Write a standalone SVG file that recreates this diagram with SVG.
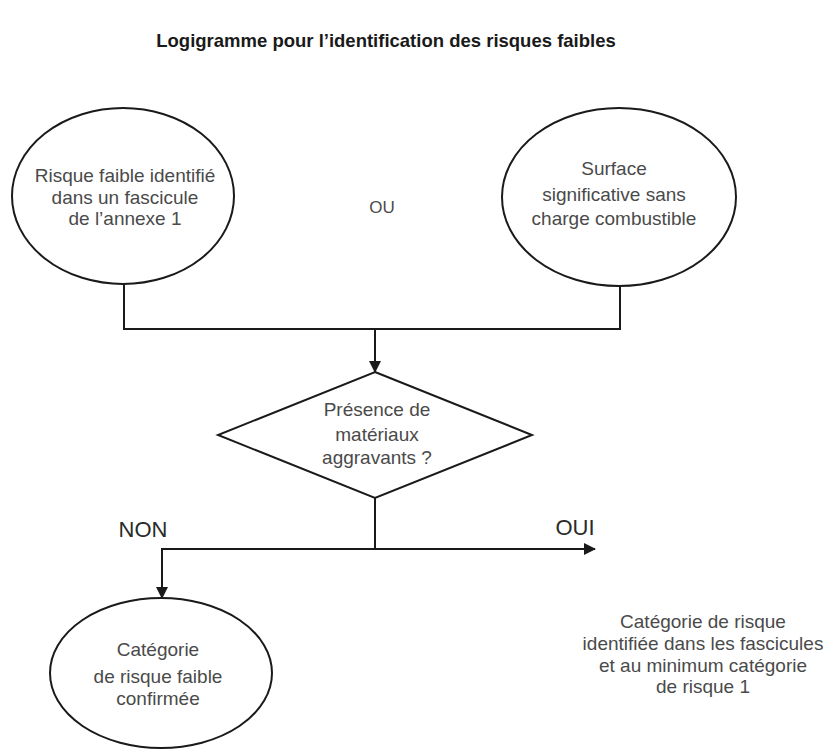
<svg xmlns="http://www.w3.org/2000/svg" width="831" height="749" viewBox="0 0 831 749">
<defs>
<marker id="arr" markerWidth="12" markerHeight="12" refX="11" refY="6" orient="auto" markerUnits="userSpaceOnUse">
<path d="M0,0 L12,6 L0,12 Z" fill="#1a1a1a"/>
</marker>
<style>
.shape{fill:#fff;stroke:#1a1a1a;stroke-width:2}
.line{fill:none;stroke:#1a1a1a;stroke-width:2}
.t{font-family:"Liberation Sans",Arial,sans-serif;font-size:19px;fill:#4a4a4a;text-anchor:middle}
.lbl{font-family:"Liberation Sans",Arial,sans-serif;font-size:22px;fill:#2a2a2a;text-anchor:middle}
.title{font-family:"Liberation Sans",Arial,sans-serif;font-size:18.5px;font-weight:bold;fill:#1a1a1a;text-anchor:middle}
</style>
</defs>
<rect width="831" height="749" fill="#fff"/>
<text class="title" x="386" y="47">Logigramme pour l’identification des risques faibles</text>
<g id="connectors">
<polyline class="line" points="124,285 124,329 620,329 620,287"/>
<line class="line" x1="375" y1="329" x2="375" y2="372" marker-end="url(#arr)"/>
<line class="line" x1="375" y1="498" x2="375" y2="549"/>
<polyline class="line" points="375,549 162,549 162,598" marker-end="url(#arr)"/>
<line class="line" x1="375" y1="549" x2="595" y2="549" marker-end="url(#arr)"/>
</g>
<g id="n1">
<ellipse class="shape" cx="123" cy="196" rx="111" ry="88"/>
<text class="t" x="125" y="182">Risque faible identifié</text>
<text class="t" x="125" y="204">dans un fascicule</text>
<text class="t" x="125" y="225">de l’annexe 1</text>
</g>
<g id="ou">
<text class="t" x="382" y="213" style="font-size:17px">OU</text>
</g>
<g id="n2">
<ellipse class="shape" cx="619" cy="197" rx="117" ry="89"/>
<text class="t" x="614" y="175">Surface</text>
<text class="t" x="614" y="201">significative sans</text>
<text class="t" x="614" y="225">charge combustible</text>
</g>
<g id="d1">
<polygon class="shape" points="375,372 532,435 375,498 218,435"/>
<text class="t" x="377" y="416">Présence de</text>
<text class="t" x="377" y="441">matériaux</text>
<text class="t" x="377" y="464">aggravants ?</text>
</g>
<g id="labels">
<text class="lbl" x="143" y="537">NON</text>
<text class="lbl" x="575" y="535">OUI</text>
</g>
<g id="n3">
<ellipse class="shape" cx="161" cy="673" rx="111" ry="75"/>
<text class="t" x="158" y="656">Catégorie</text>
<text class="t" x="158" y="683">de risque faible</text>
<text class="t" x="158" y="705">confirmée</text>
</g>
<g id="n4">
<text class="t" x="703" y="628">Catégorie de risque</text>
<text class="t" x="703" y="650">identifiée dans les fascicules</text>
<text class="t" x="703" y="672">et au minimum catégorie</text>
<text class="t" x="703" y="693">de risque 1</text>
</g>
</svg>
